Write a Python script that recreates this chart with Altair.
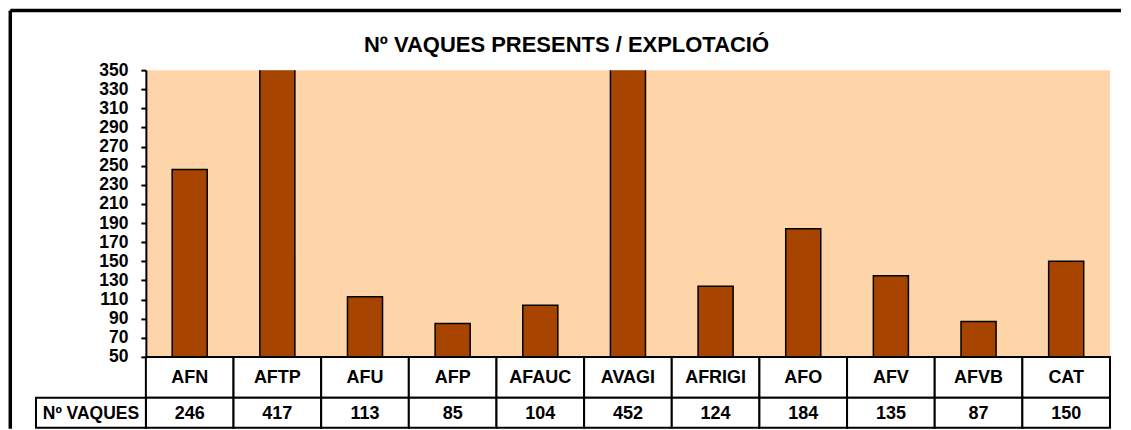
import altair as alt
import pandas as pd

categories = ["AFN", "AFTP", "AFU", "AFP", "AFAUC", "AVAGI", "AFRIGI", "AFO", "AFV", "AFVB", "CAT"]
values = [246, 417, 113, 85, 104, 452, 124, 184, 135, 87, 150]
y_ticks = list(range(50, 351, 20))
title_text = "Nº VAQUES PRESENTS / EXPLOTACIÓ"
row_label = "Nº VAQUES"

FONT = "Liberation Sans"
BAR = "#A64400"
BG = "#FED5A9"
W = 965
H = 287
R1 = 41
R2 = 30

df = pd.DataFrame({"cat": categories, "val": values})
one = pd.DataFrame({"t": [title_text]})
hdr = pd.DataFrame({"t": [row_label]})

xb = alt.X("cat:N", sort=categories,
           scale=alt.Scale(paddingInner=0.6, paddingOuter=0.3), axis=None)

bars = alt.Chart(df).mark_bar(color=BAR, stroke="black", strokeWidth=1.5, clip=True).encode(
    x=xb,
    y=alt.Y("val:Q",
            scale=alt.Scale(domain=[50, 350], nice=False, zero=False),
            axis=alt.Axis(values=y_ticks, title=None, grid=False,
                          domainColor="black", domainWidth=2,
                          tickColor="black", tickWidth=2, tickSize=5,
                          labelFont=FONT, labelFontSize=17.5, labelFontWeight="bold",
                          labelColor="black", labelPadding=13,
                          labelOverlap=False, labelFlush=False)),
    y2=alt.datum(50),
)

title = alt.Chart(one).mark_text(font=FONT, fontSize=22, fontWeight="bold",
                                 align="center", baseline="alphabetic", color="black").encode(
    x=alt.value(421), y=alt.value(-18), text="t:N")

frame_v = alt.Chart(one).mark_rule(color="black", strokeWidth=3.5).encode(
    x=alt.value(-135.7), y=alt.value(-59.7), y2=alt.value(359))
frame_h = alt.Chart(one).mark_rule(color="black", strokeWidth=3.5).encode(
    x=alt.value(-135.7), x2=alt.value(976), y=alt.value(-59.7))

top = alt.layer(bars, title, frame_v, frame_h).properties(
    width=W, height=H, view=alt.ViewBackground(fill=BG, stroke=None))

xt = alt.X("cat:N", sort=categories,
           scale=alt.Scale(paddingInner=0, paddingOuter=0), axis=None)

cells1 = alt.Chart(df).mark_rect(fill="white", stroke="black", strokeWidth=2).encode(
    x=xt, y=alt.value(0), y2=alt.value(R1))
text1 = alt.Chart(df).mark_text(font=FONT, fontSize=18, fontWeight="bold",
                                baseline="middle", color="black").encode(
    x=xt, y=alt.value(R1 / 2 + 1), text="cat:N")
row1 = alt.layer(cells1, text1).properties(
    width=W, height=R1, view=alt.ViewBackground(fill="white", stroke=None))

cells2 = alt.Chart(df).mark_rect(fill="white", stroke="black", strokeWidth=2).encode(
    x=xt, y=alt.value(0), y2=alt.value(R2))
text2 = alt.Chart(df).mark_text(font=FONT, fontSize=18, fontWeight="bold",
                                baseline="middle", color="black").encode(
    x=xt, y=alt.value(R2 / 2 + 1), text=alt.Text("val:Q"))
hcell = alt.Chart(hdr).mark_rect(fill="white", stroke="black", strokeWidth=2).encode(
    x=alt.value(-110), x2=alt.value(0), y=alt.value(0), y2=alt.value(R2))
htext = alt.Chart(hdr).mark_text(font=FONT, fontSize=17.5, fontWeight="bold",
                                 baseline="middle", align="center", color="black").encode(
    x=alt.value(-55), y=alt.value(R2 / 2 + 1), text="t:N")
row2 = alt.layer(cells2, text2, hcell, htext).properties(
    width=W, height=R2, view=alt.ViewBackground(fill="white", stroke=None))

chart = alt.vconcat(top, row1, row2, spacing=0, bounds="flush").properties(
    padding={"left": 0, "top": 0, "right": 0, "bottom": 0},
    background="white",
).configure_view(stroke=None)

chart.save("out.html", embed_options={"renderer": "svg", "actions": False})
